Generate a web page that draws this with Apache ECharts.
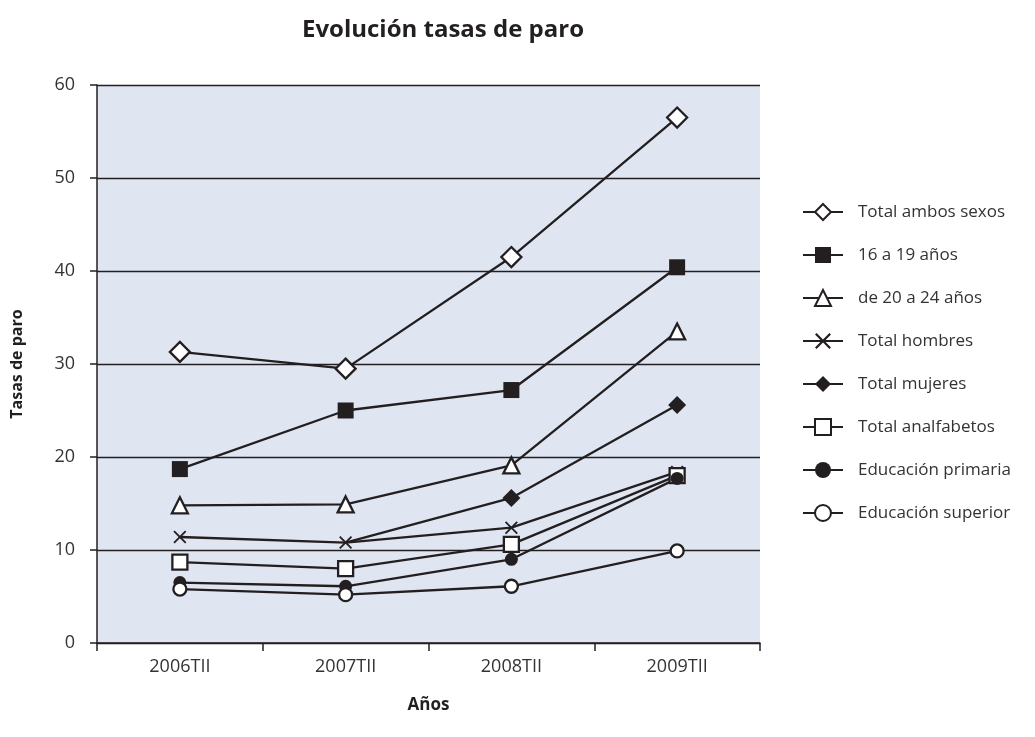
<!DOCTYPE html>
<html lang="es">
<head>
    <meta charset="UTF-8">
    <title>Evolución tasas de paro</title>
    <script src="https://cdn.jsdelivr.net/npm/echarts@6/dist/echarts.min.js"></script>
    <style>
        html, body { margin: 0; padding: 0; background: #fff; }
        #chart { width: 1035px; height: 737px; }
    </style>
</head>
<body>
<div id="chart"></div>
<script type="text/javascript">
    // categorías del eje X
    var periodos = ['2006TII', '2007TII', '2008TII', '2009TII'];
    var yTicks = [0, 10, 20, 30, 40, 50, 60];

    // series
    var ambosSexos = [31.3, 29.5, 41.5, 56.5];
    var de16a19 = [18.7, 25.0, 27.2, 40.4];
    var de20a24 = [14.8, 14.9, 19.1, 33.5];
    var hombres = [11.4, 10.8, 12.4, 18.4];
    var mujeres = [null, 10.8, 15.6, 25.6];
    var analfabetos = [8.7, 8.0, 10.6, 18.0];
    var primaria = [6.5, 6.1, 9.0, 17.7];
    var superior = [5.8, 5.2, 6.1, 9.9];

    var ink = '#231f20';
    var crossPath = 'path://M0,1L1,0L5,4L9,0L10,1L6,5L10,9L9,10L5,6L1,10L0,9L4,5Z';

    function serie(nombre, datos, symbol, size, filled) {
        return {
            name: nombre,
            type: 'line',
            data: datos.map(function (v, i) {
                // mujeres 2007: sin marcador visible en el original
                if (nombre === 'Total mujeres' && i === 1) {
                    return {value: v, symbol: 'none'};
                }
                return v;
            }),
            symbol: symbol,
            symbolSize: size,
            showAllSymbol: true,
            connectNulls: false,
            lineStyle: {color: ink, width: 2.3},
            itemStyle: {
                color: filled ? ink : '#ffffff',
                borderColor: ink,
                borderWidth: filled ? 0 : 2.3,
                opacity: 1
            },
            emphasis: {disabled: true}
        };
    }

    var chart = echarts.init(document.getElementById('chart'));
    var option = {
        animation: false,
        backgroundColor: '#ffffff',
        title: {
            text: 'Evolución tasas de paro',
            left: 438,
            textAlign: 'center',
            top: 13,
            textStyle: {fontFamily: 'Open Sans', fontWeight: 'bold', fontSize: 24, color: ink}
        },
        legend: {
            orient: 'vertical',
            left: 797,
            top: 196,
            itemWidth: 40,
            itemHeight: 20,
            itemGap: 21,
            textStyle: {fontFamily: 'Open Sans', fontSize: 17, color: '#333333', padding: [0, 0, 0, 10],
                lineHeight: 22},
            data: ['Total ambos sexos', '16 a 19 años', 'de 20 a 24 años', 'Total hombres',
                'Total mujeres', 'Total analfabetos', 'Educación primaria', 'Educación superior']
        },
        grid: {left: 97, right: 275, top: 85, bottom: 94, show: true, backgroundColor: '#dfe6f2', borderWidth: 0},
        xAxis: {
            type: 'category',
            data: periodos,
            boundaryGap: true,
            name: 'Años',
            nameLocation: 'middle',
            nameGap: 54,
            nameTextStyle: {fontFamily: 'Open Sans', fontWeight: 'bold', fontSize: 17, color: ink},
            axisLine: {lineStyle: {color: ink, width: 1.5}},
            axisTick: {show: true, length: 8, lineStyle: {color: ink, width: 1.5}},
            axisLabel: {fontFamily: 'Open Sans', fontSize: 18, color: '#333333', margin: 15}
        },
        yAxis: {
            type: 'value',
            min: yTicks[0],
            max: yTicks[yTicks.length - 1],
            interval: 10,
            name: 'Tasas de paro',
            nameLocation: 'middle',
            nameGap: 72,
            nameRotate: 90,
            nameTextStyle: {fontFamily: 'Open Sans', fontWeight: 'bold', fontSize: 16, color: ink},
            axisLine: {show: true, lineStyle: {color: ink, width: 1.5}},
            axisTick: {show: true, length: 7, lineStyle: {color: ink, width: 1.5}},
            axisLabel: {fontFamily: 'Open Sans', fontSize: 18, color: '#333333', margin: 22},
            splitLine: {show: true, lineStyle: {color: ink, width: 1.3}}
        },
        series: [
            serie('Total ambos sexos', ambosSexos, 'diamond', 20, false),
            serie('16 a 19 años', de16a19, 'rect', 16, true),
            serie('de 20 a 24 años', de20a24, 'triangle', 16, false),
            serie('Total hombres', hombres, crossPath, 13, true),
            serie('Total mujeres', mujeres, 'diamond', 18, true),
            serie('Total analfabetos', analfabetos, 'rect', 15, false),
            serie('Educación primaria', primaria, 'circle', 13, true),
            serie('Educación superior', superior, 'circle', 13, false)
        ]
    };
    chart.setOption(option);
</script>
</body>
</html>
